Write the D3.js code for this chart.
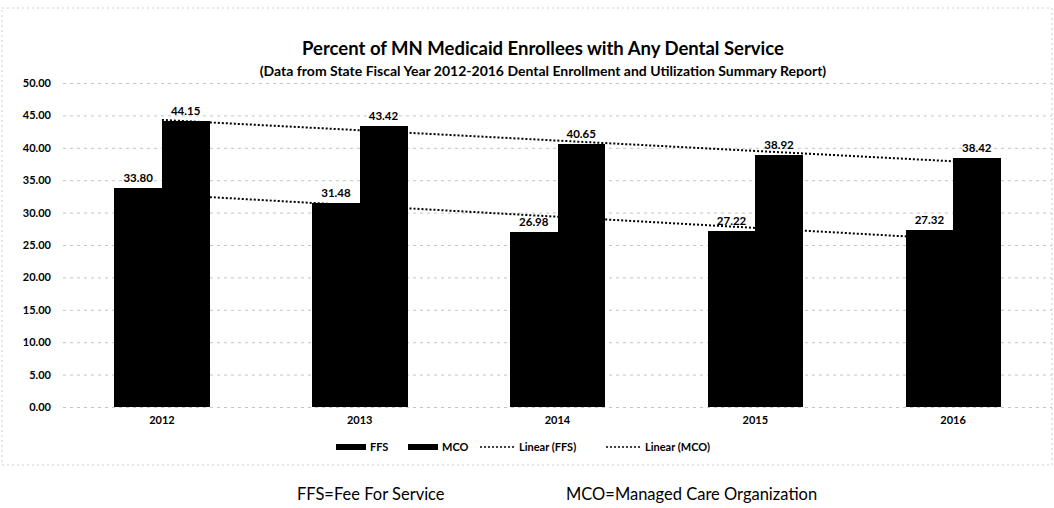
<!DOCTYPE html>
<html>
<head>
<meta charset="utf-8">
<script src="https://cdn.jsdelivr.net/npm/d3@7"></script>
<style>
  html, body { margin: 0; padding: 0; background: #fff; }
  svg { display: block; }
  text { font-family: "Lato", sans-serif; fill: #000; }
</style>
</head>
<body>
<svg id="chart" width="1054" height="508"></svg>
<script>
// Dental service utilisation, state fiscal years 2012-2016
const years = ["2012", "2013", "2014", "2015", "2016"];
const seriesNames = ["FFS", "MCO"];
const ffsValues = [33.80, 31.48, 26.98, 27.22, 27.32];
const mcoValues = [44.15, 43.42, 40.65, 38.92, 38.42];
const yTicks = [0, 5, 10, 15, 20, 25, 30, 35, 40, 45, 50];
const legendLabels = ["FFS", "MCO", "Linear (FFS)", "Linear (MCO)"];

const svg = d3.select("#chart");
const margin = { left: 63, right: 2, top: 83, bottom: 101 };
const W = 1054, H = 508;

const x = d3.scaleBand().domain(years)
  .range([margin.left, W - margin.right])
  .paddingInner(0.52).paddingOuter(0.26);
const xs = d3.scaleBand().domain(seriesNames).range([0, x.bandwidth()]);
const y = d3.scaleLinear().domain([0, 50]).range([H - margin.bottom, margin.top]);

// faint chart-area border
svg.append("rect").attr("x", 2).attr("y", 8).attr("width", W - 4).attr("height", 457)
  .attr("fill", "none").attr("stroke", "#cfcfcf").attr("stroke-dasharray", "2,3");

// titles
svg.append("text").attr("x", 543).attr("y", 55).attr("text-anchor", "middle")
  .style("font-size", "18.5px").style("font-weight", "bold")
  .text("Percent of MN Medicaid Enrollees with Any Dental Service");
svg.append("text").attr("x", 543).attr("y", 76).attr("text-anchor", "middle")
  .style("font-size", "14px").style("font-weight", "bold")
  .text("(Data from State Fiscal Year 2012-2016 Dental Enrollment and Utilization Summary Report)");

// y axis with gridlines
const yAxis = d3.axisLeft(y).tickValues(yTicks).tickFormat(d3.format(".2f"))
  .tickSize(-(W - margin.left - margin.right)).tickPadding(12);
const gy = svg.append("g").attr("transform", `translate(${margin.left},0)`).call(yAxis);
gy.select(".domain").remove();
gy.selectAll(".tick line").attr("stroke", "#c4c4c4").attr("stroke-dasharray", "3,4");
gy.selectAll(".tick text").style("font-size", "11px").style("font-weight", "bold");

// x axis labels
const xAxis = d3.axisBottom(x).tickSize(0).tickPadding(9);
const gx = svg.append("g").attr("transform", `translate(0,${y(0)})`).call(xAxis);
gx.select(".domain").remove();
gx.selectAll(".tick text").style("font-size", "11px").style("font-weight", "bold");

// linear trend lines (least squares over the category index)
function linearFit(vals) {
  const idx = vals.map((_, i) => i + 1);
  const mx = d3.mean(idx), my = d3.mean(vals);
  const slope = d3.sum(vals, (v, i) => (idx[i] - mx) * (v - my)) /
                d3.sum(idx, v => (v - mx) * (v - mx));
  return idx.map(v => my + slope * (v - mx));
}
const line = d3.line().x((d, i) => x(years[i]) + x.bandwidth() / 2).y(d => y(d));
[ffsValues, mcoValues].forEach(vals => {
  svg.append("path").datum(linearFit(vals)).attr("d", line)
    .attr("fill", "none").attr("stroke", "#000").attr("stroke-width", 2)
    .attr("stroke-dasharray", "2,2");
});

// bars
const rows = years.map((yr, i) => ({ year: yr, FFS: ffsValues[i], MCO: mcoValues[i] }));
const groups = svg.append("g").selectAll("g").data(rows).join("g")
  .attr("transform", d => `translate(${x(d.year)},0)`);
groups.selectAll("rect").data(d => seriesNames.map(k => ({ key: k, value: d[k] }))).join("rect")
  .attr("x", d => xs(d.key)).attr("width", xs.bandwidth() + 0.5)
  .attr("y", d => y(d.value)).attr("height", d => y(0) - y(d.value))
  .attr("fill", "#000").attr("shape-rendering", "crispEdges");
groups.selectAll("text.val").data(d => seriesNames.map(k => ({ key: k, value: d[k] }))).join("text")
  .attr("class", "val")
  .attr("x", d => xs(d.key) + xs.bandwidth() / 2).attr("y", d => y(d.value) - 6)
  .attr("text-anchor", "middle").style("font-size", "11.5px").style("font-weight", "bold")
  .text(d => d.value.toFixed(2));

// legend
const leg = svg.append("g").attr("transform", "translate(0,447)");
const legPos = [336, 408, 480, 606];
legendLabels.forEach((lab, i) => {
  const g = leg.append("g").attr("transform", `translate(${legPos[i]},0)`);
  if (i < 2) {
    g.append("rect").attr("x", 0).attr("y", -3).attr("width", 30).attr("height", 6).attr("fill", "#000");
  } else {
    g.append("line").attr("x1", 0).attr("x2", 34).attr("y1", 0).attr("y2", 0)
      .attr("stroke", "#000").attr("stroke-width", 1.5).attr("stroke-dasharray", "2,2");
  }
  g.append("text").attr("x", i < 2 ? 34 : 39).attr("y", 4)
    .style("font-size", "11px").style("font-weight", "bold").text(lab);
});

// footnote definitions
svg.append("text").attr("x", 297).attr("y", 500).style("font-size", "16.5px").text("FFS=Fee For Service");
svg.append("text").attr("x", 566).attr("y", 500).style("font-size", "16.5px").text("MCO=Managed Care Organization");
</script>
</body>
</html>
